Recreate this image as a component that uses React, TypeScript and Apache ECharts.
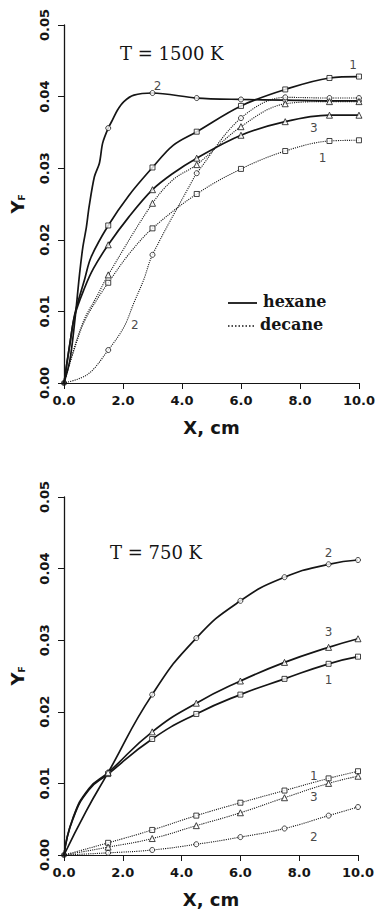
import React, { useEffect, useRef } from "react";
import * as echarts from "echarts";

type P = [number, number];

// marker stations (cm)
const MARK_X = [0, 1.5, 3, 4.5, 6, 7.5, 9, 10];

// ---------- T = 1500 K ----------
const hotHexane1: P[] = [[0, 0], [0.2, 0.0055], [0.37, 0.0097], [0.7, 0.0145], [0.92, 0.0176], [1.5, 0.022], [2.2, 0.0262], [3, 0.0301], [3.7, 0.0332], [4.5, 0.0351], [6, 0.0387], [7.5, 0.041], [9, 0.0426], [10, 0.0428]];
const hotHexane2: P[] = [[0, 0], [0.2, 0.0032], [0.37, 0.0088], [0.53, 0.0153], [0.64, 0.019], [0.76, 0.0218], [0.85, 0.0246], [1.03, 0.0288], [1.2, 0.0307], [1.31, 0.0335], [1.5, 0.0356], [1.64, 0.0367], [1.81, 0.0381], [2.03, 0.0393], [2.37, 0.0402], [3, 0.0405], [4.5, 0.0398], [6, 0.0396], [7.5, 0.0395], [9, 0.0394], [10, 0.0394]];
const hotHexane3: P[] = [[0, 0], [0.2, 0.0055], [0.37, 0.0095], [0.7, 0.0133], [1.0, 0.016], [1.5, 0.0193], [2.2, 0.0232], [3, 0.027], [3.7, 0.0293], [4.5, 0.0314], [6, 0.0346], [7.5, 0.0365], [9, 0.0374], [10, 0.0374]];
const hotDecane1: P[] = [[0, 0], [0.37, 0.005], [0.7, 0.0087], [1.14, 0.0118], [1.5, 0.014], [2.2, 0.018], [3, 0.0216], [4.5, 0.0264], [6, 0.0299], [7.5, 0.0324], [9, 0.0338], [10, 0.0339]];
const hotDecane2: P[] = [[0, 0], [0.8, 0.0012], [1.5, 0.0046], [2.03, 0.0078], [2.37, 0.0112], [2.7, 0.0144], [3, 0.0179], [4.37, 0.0284], [4.5, 0.0293], [6, 0.037], [7.5, 0.0399], [9, 0.0398], [10, 0.0398]];
const hotDecane3: P[] = [[0, 0], [0.37, 0.0052], [0.7, 0.009], [1.14, 0.0123], [1.5, 0.0151], [3, 0.0251], [3.7, 0.0284], [4.5, 0.0305], [6, 0.0358], [7.5, 0.039], [9, 0.0393], [10, 0.0393]];

// ---------- T = 750 K ----------
const coldHexane1: P[] = [[0, 0], [0.3, 0.005], [0.85, 0.0091], [1.5, 0.0113], [3, 0.0162], [4.5, 0.0197], [6, 0.0224], [7.5, 0.0246], [9, 0.0267], [10, 0.0277]];
const coldHexane2: P[] = [[0, 0], [0.75, 0.0061], [1.5, 0.0115], [3, 0.0224], [4.5, 0.0303], [6, 0.0355], [7.5, 0.0388], [9, 0.0406], [10, 0.0412]];
const coldHexane3: P[] = [[0, 0], [0.3, 0.0051], [0.85, 0.0093], [1.5, 0.0115], [3, 0.0172], [4.5, 0.0212], [6, 0.0243], [7.5, 0.0269], [9, 0.029], [10, 0.0302]];
const coldDecane1: P[] = [[0, 0], [1.5, 0.0017], [3, 0.0035], [4.5, 0.0055], [6, 0.0073], [7.5, 0.009], [9, 0.0107], [10, 0.0117]];
const coldDecane2: P[] = [[0, 0], [1.5, 0.0003], [3, 0.0007], [4.5, 0.0015], [6, 0.0025], [7.5, 0.0037], [9, 0.0055], [10, 0.0067]];
const coldDecane3: P[] = [[0, 0], [1.5, 0.0011], [3, 0.0023], [4.5, 0.0041], [6, 0.0059], [7.5, 0.008], [9, 0.01], [10, 0.011]];

// curve number labels [text, x, y]
const hotLabels: [string, number, number][] = [["1", 9.8, 0.0444], ["2", 3.17, 0.0415], ["3", 8.47, 0.0356], ["1", 8.77, 0.0314], ["2", 2.4, 0.0081]];
const coldLabels: [string, number, number][] = [["2", 9.0, 0.0422], ["3", 9.0, 0.0312], ["1", 9.0, 0.0245], ["1", 8.5, 0.011], ["3", 8.5, 0.0081], ["2", 8.5, 0.0025]];

const X_TICKS = { min: 0, max: 10, interval: 2 };
const Y_TICKS = { min: 0, max: 0.05, interval: 0.01 };

const INK = "#151515";

function curve(pts: P[], grid: number, dotted: boolean, symbol: string, smooth: number): any[] {
  const line = {
    type: "line",
    xAxisIndex: grid,
    yAxisIndex: grid,
    data: pts,
    showSymbol: false,
    smooth,
    lineStyle: { color: INK, width: dotted ? 1.1 : 1.7, type: dotted ? "dotted" : "solid" },
    z: 2,
  };
  const marks = {
    type: "scatter",
    xAxisIndex: grid,
    yAxisIndex: grid,
    data: pts.filter((p) => p[0] > 0 && MARK_X.indexOf(p[0]) >= 0),
    symbol,
    symbolSize: symbol === "triangle" ? 6 : 5,
    itemStyle: { color: "#fff", borderColor: INK, borderWidth: 1 },
    z: 3,
  };
  return [line, marks];
}

function labelSeries(labels: [string, number, number][], grid: number) {
  return {
    type: "scatter",
    xAxisIndex: grid,
    yAxisIndex: grid,
    symbolSize: 1,
    itemStyle: { color: "rgba(0,0,0,0)" },
    data: labels.map(([t, x, y]) => ({ value: [x, y], name: t })),
    label: {
      show: true,
      position: "inside",
      formatter: (p: any) => p.name,
      fontFamily: "DejaVu Sans",
      fontSize: 12,
      color: INK,
    },
    z: 4,
  };
}

function originDot(pts: P[], grid: number) {
  return {
    type: "scatter",
    xAxisIndex: grid,
    yAxisIndex: grid,
    data: [pts[0]],
    symbolSize: 6,
    itemStyle: { color: INK },
    z: 5,
  };
}

const axisFont = { fontFamily: "DejaVu Sans", fontWeight: "bold" as const, fontSize: 13, color: INK };

function xAxis(grid: number) {
  return {
    gridIndex: grid,
    type: "value",
    ...X_TICKS,
    axisLine: { show: true, onZero: false, lineStyle: { color: INK, width: 1 } },
    axisTick: { show: true, length: 6, lineStyle: { color: INK } },
    axisLabel: { ...axisFont, margin: 11, formatter: (v: number) => v.toFixed(1) },
    splitLine: { show: false },
    name: "X, cm",
    nameLocation: "middle",
    nameGap: 35,
    nameTextStyle: { fontFamily: "DejaVu Sans", fontWeight: "bold", fontSize: 18, color: INK },
  };
}

function yAxis(grid: number) {
  return {
    gridIndex: grid,
    type: "value",
    ...Y_TICKS,
    axisLine: { show: true, onZero: false, lineStyle: { color: INK, width: 1.3 } },
    axisTick: { show: true, length: 6, lineStyle: { color: INK } },
    axisLabel: { ...axisFont, margin: 13, rotate: 90, formatter: (v: number) => v.toFixed(2) },
    splitLine: { show: false },
    name: "{a|Y}{b|F}",
    nameLocation: "middle",
    nameGap: 38,
    nameRotate: 90,
    nameTextStyle: {
      rich: {
        a: { fontFamily: "DejaVu Sans", fontWeight: "bold", fontSize: 18, color: INK },
        b: { fontFamily: "DejaVu Sans", fontWeight: "bold", fontSize: 9, color: INK, verticalAlign: "bottom", padding: [6, 0, 0, 0] },
      },
    },
  };
}

export default function App() {
  const ref = useRef<HTMLDivElement>(null);
  useEffect(() => {
    if (!ref.current) return;
    const chart = echarts.init(ref.current, null, { renderer: "svg" });
    const series: any[] = [
      ...curve(hotHexane1, 0, false, "rect", 0.35),
      ...curve(hotHexane2, 0, false, "circle", 0.3),
      ...curve(hotHexane3, 0, false, "triangle", 0.35),
      ...curve(hotDecane1, 0, true, "rect", 0.35),
      ...curve(hotDecane2, 0, true, "circle", 0.35),
      ...curve(hotDecane3, 0, true, "triangle", 0.35),
      labelSeries(hotLabels, 0),
      originDot(hotHexane1, 0),
      ...curve(coldHexane1, 1, false, "rect", 0.5),
      ...curve(coldHexane2, 1, false, "circle", 0.5),
      ...curve(coldHexane3, 1, false, "triangle", 0.5),
      ...curve(coldDecane1, 1, true, "rect", 0.5),
      ...curve(coldDecane2, 1, true, "circle", 0.5),
      ...curve(coldDecane3, 1, true, "triangle", 0.5),
      labelSeries(coldLabels, 1),
      originDot(coldHexane1, 1),
    ];
    const titleFont = { fontFamily: "DejaVu Serif", fontSize: 18, fill: INK };
    const legendFont = { fontFamily: "DejaVu Serif", fontSize: 16, fontWeight: "bold", fill: INK };
    chart.setOption({
      animation: false,
      backgroundColor: "#fff",
      grid: [
        { left: 59, right: 19, top: 25, height: 358 },
        { left: 57, right: 20, top: 497, height: 359 },
      ],
      xAxis: [xAxis(0), xAxis(1)],
      yAxis: [yAxis(0), yAxis(1)],
      series,
      graphic: [
        { type: "text", left: 120, top: 44, style: { text: "T = 1500 K", ...titleFont } },
        { type: "text", left: 110, top: 543, style: { text: "T = 750 K", ...titleFont } },
        { type: "line", shape: { x1: 228, y1: 303, x2: 257, y2: 303 }, style: { stroke: INK, lineWidth: 1.8 } },
        { type: "text", left: 263, top: 293, style: { text: "hexane", ...legendFont } },
        { type: "line", shape: { x1: 228, y1: 326, x2: 254, y2: 326 }, style: { stroke: INK, lineWidth: 1.3, lineDash: [1.5, 2] } },
        { type: "text", left: 260, top: 316, style: { text: "decane", ...legendFont } },
      ],
    });
    return () => chart.dispose();
  }, []);
  return <div ref={ref} style={{ position: "fixed", left: 0, top: 0, width: 378, height: 909, background: "#fff" }} />;
}
